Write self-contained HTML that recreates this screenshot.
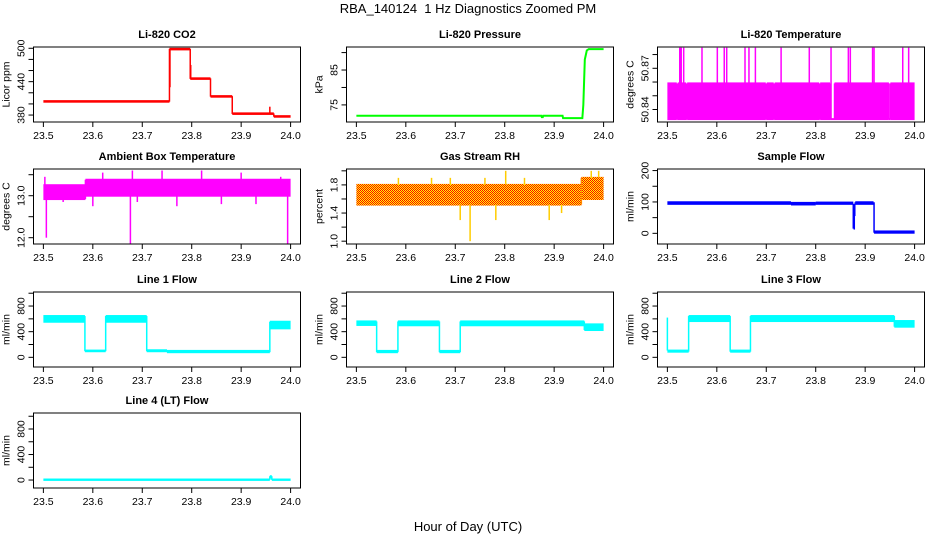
<!DOCTYPE html>
<html><head><meta charset="utf-8">
<style>
html,body{margin:0;padding:0;background:#fff;}
svg{display:block;font-family:"Liberation Sans",sans-serif;}
</style></head>
<body>
<svg id="chart" width="936" height="540" viewBox="0 0 936 540">
<defs>
<pattern id="rhPat" width="2" height="2" patternUnits="userSpaceOnUse">
<rect width="2" height="2" fill="#ffff00"/><rect width="1" height="1" fill="#ff0000"/><rect x="1" y="1" width="1" height="1" fill="#ff0000"/>
</pattern>
</defs>
<text x="468" y="13" text-anchor="middle" font-size="13">RBA_140124 &#160;1 Hz Diagnostics Zoomed PM</text>
<text x="468" y="531" text-anchor="middle" font-size="13">Hour of Day (UTC)</text>
</svg>
<script>
// ---- data (hours UTC; values in panel units) ----
const xTicks = [23.5, 23.6, 23.7, 23.8, 23.9, 24.0];
const xTickLabels = ["23.5","23.6","23.7","23.8","23.9","24.0"];

const co2Start = [23.5, 23.755, 23.797, 23.838, 23.882, 23.966];
const co2End   = [23.755, 23.797, 23.838, 23.882, 23.966, 24.0];
const co2Lo    = [404, 498, 445, 413, 382, 377];
const co2Hi    = [405, 499, 446, 414, 383, 378];
const co2SpikeT = [23.756, 23.798, 23.958];
const co2SpikeV = [430, 470, 395];

const presT = [23.5, 23.874, 23.875, 23.877, 23.878, 23.917, 23.918, 23.957, 23.959, 23.962, 23.966, 23.97, 24.0];
const presV = [71.9, 71.9, 71.5, 71.5, 71.9, 71.9, 71.2, 71.2, 75, 88, 90.6, 91.0, 91.0];

const tempStart = [23.5, 23.519, 23.521, 23.538, 23.540, 23.699, 23.701, 23.715, 23.717, 23.807, 23.809, 23.829, 23.838, 23.948, 23.951];
const tempEnd   = [23.519, 23.521, 23.538, 23.540, 23.699, 23.701, 23.715, 23.717, 23.807, 23.809, 23.829, 23.838, 23.948, 23.951, 24.0];
const tempLo    = [50.833,50.833,50.833,50.833,50.833,50.833,50.833,50.833,50.833,50.833,50.833,50.833,50.833,50.833,50.833];
const tempHi    = [50.859,50.833,50.859,50.833,50.859,50.833,50.859,50.833,50.859,50.833,50.859,50.833,50.859,50.833,50.859];
const tempSpikeT = [23.525,23.528,23.533,23.570,23.601,23.615,23.620,23.657,23.665,23.678,23.730,23.787,23.831,23.866,23.870,23.915,23.918,23.976,23.988];
const tempSpikeV = [50.885,50.885,50.885,50.885,50.885,50.885,50.885,50.885,50.885,50.885,50.885,50.885,50.885,50.885,50.885,50.885,50.885,50.885,50.885];

const ambStart = [23.5, 23.585];
const ambEnd   = [23.585, 24.0];
const ambLo    = [12.92, 13.0];
const ambHi    = [13.25, 13.38];
const ambSpikeT = [23.506, 23.676, 23.994, 23.503, 23.62, 23.68, 23.74, 23.82, 23.9, 23.54, 23.6, 23.69, 23.77, 23.86, 23.93, 23.98];
const ambSpikeV = [12.0, 11.85, 11.85, 13.45, 13.55, 13.6, 13.6, 13.6, 13.55, 12.85, 12.75, 12.85, 12.75, 12.8, 12.8, 13.45];

const rhStart = [23.5, 23.955];
const rhEnd   = [23.955, 24.0];
const rhLo    = [1.52, 1.6];
const rhHi    = [1.8, 1.9];
const rhSpikeT = [23.73, 23.802, 23.71, 23.782, 23.89, 23.585, 23.652, 23.975, 23.99, 23.69, 23.76, 23.84, 23.915];
const rhSpikeV = [1.0, 2.0, 1.3, 1.3, 1.3, 1.9, 1.9, 2.0, 2.0, 1.9, 1.9, 1.9, 1.4];

const sampStart = [23.5, 23.75, 23.8, 23.88, 23.918];
const sampEnd   = [23.75, 23.8, 23.876, 23.917, 24.0];
const sampLo    = [94, 92, 94, 94, 2];
const sampHi    = [99, 97, 98, 99, 6];
const sampSpikeT = [23.876, 23.878, 23.879];
const sampSpikeV = [15, 12, 55];

const l1Start = [23.5, 23.584, 23.626, 23.709, 23.75, 23.958];
const l1End   = [23.584, 23.626, 23.709, 23.75, 23.958, 24.0];
const l1Lo    = [555, 95, 555, 95, 80, 452];
const l1Hi    = [644, 105, 644, 110, 100, 555];

const l2Start = [23.5, 23.541, 23.584, 23.668, 23.710, 23.961];
const l2End   = [23.541, 23.584, 23.668, 23.710, 23.961, 24.0];
const l2Lo    = [505, 80, 500, 80, 500, 426];
const l2Hi    = [560, 100, 560, 100, 560, 514];

const l3Start = [23.5, 23.543, 23.627, 23.668, 23.959];
const l3End   = [23.543, 23.627, 23.668, 23.959, 24.0];
const l3Lo    = [88, 566, 88, 566, 478];
const l3Hi    = [105, 644, 105, 644, 566];
const l3SpikeT = [23.5];
const l3SpikeV = [620];

const l4Start = [23.5, 23.958, 23.962];
const l4End   = [23.958, 23.962, 24.0];
const l4Lo    = [2, 40, 2];
const l4Hi    = [8, 60, 8];

const co2Ticks=[380,400,420,440,460,480,500], co2Labels=["380","","","440","","","500"];
const presTicks=[75,80,85,90], presLabels=["75","","85",""];
const tempTicks=[50.84,50.85,50.86,50.87,50.88], tempLabels=["50.84","","","50.87",""];
const ambTicks=[12.0,12.5,13.0,13.5], ambLabels=["12.0","","13.0",""];
const rhTicks=[1.0,1.2,1.4,1.6,1.8,2.0], rhLabels=["1.0","","1.4","","1.8",""];
const sampTicks=[0,50,100,150,200], sampLabels=["0","","100","","200"];
const flowTicks=[0,200,400,600,800,1000], flowLabels=["0","","400","","800",""];

// ---- layout ----
const NS="http://www.w3.org/2000/svg";
const svg=document.getElementById('chart');
const colLeft=[33.5,346.5,657.5], boxW=267, boxH=75;
const rowTop=[47,169,292,413];
function mk(tag,attrs,parent){const e=document.createElementNS(NS,tag);for(const k in attrs)e.setAttribute(k,attrs[k]);(parent||svg).appendChild(e);return e;}

function panel(cfg){
  const L=colLeft[cfg.col], T=rowTop[cfg.row];
  const g=mk('g',{});
  
  
  const xs=t=>L+boxW*0.037+(t-23.5)*(boxW/1.08/0.5);
  const ys=v=>T+boxH*(cfg.yTop-v)/(cfg.yTop-cfg.yBot);
  const clip='clip-'+cfg.name;
  const cp=mk('clipPath',{id:clip},g);mk('rect',{x:L,y:T,width:boxW,height:boxH},cp);
  const pg=mk('g',{'clip-path':'url(#'+clip+')'},g);
  
  
  const col=cfg.color;
  if(cfg.start){
    for(let i=0;i<cfg.start.length;i++){
      const x0=xs(cfg.start[i]),x1=xs(cfg.end[i]);
      const y0=ys(cfg.hi[i]),y1=ys(cfg.lo[i]);
      const r=mk('rect',{x:x0,y:y0-1,width:Math.max(x1-x0,1),height:Math.max(y1-y0,0)+2,fill:cfg.fill||col},pg);
      
      
      if(i>0){
        const a=Math.min(ys(cfg.hi[i]),ys(cfg.hi[i-1])),b=Math.max(ys(cfg.lo[i]),ys(cfg.lo[i-1]));
        mk('line',{x1:x0,x2:x0,y1:a,y2:b,stroke:col,'stroke-width':1.5},pg);
      }
    }
  }
  if(cfg.spikeT){
    for(let i=0;i<cfg.spikeT.length;i++){
      const t=cfg.spikeT[i],v=cfg.spikeV[i];
      let k=0;for(let j=0;j<cfg.start.length;j++){if(t>=cfg.start[j])k=j;}
      const base=v>cfg.hi[k]?cfg.hi[k]:cfg.lo[k];
      const s=mk('line',{x1:xs(t),x2:xs(t),y1:ys(base),y2:ys(v),stroke:cfg.spikeColor||col,'stroke-width':1.5},pg);
      
      
    }
  }
  if(cfg.lineT){
    const pts=cfg.lineT.map((t,i)=>xs(t)+','+ys(cfg.lineV[i])).join(' ');
    const pl=mk('polyline',{points:pts,fill:'none',stroke:col,'stroke-width':2},pg);
    
    
  }
  mk('rect',{x:L,y:T,width:boxW,height:boxH,fill:'none',stroke:'#000','stroke-width':1},g);
  const B=T+boxH;
  mk('line',{x1:xs(xTicks[0]),x2:xs(xTicks[xTicks.length-1]),y1:B,y2:B,stroke:'#000'},g);
  xTicks.forEach((t,i)=>{
    mk('line',{x1:xs(t),x2:xs(t),y1:B,y2:B+5,stroke:'#000'},g);
    const tx=mk('text',{x:xs(t),y:B+17,'text-anchor':'middle','font-size':10.5},g);tx.textContent=xTickLabels[i];
    
    
  });
  mk('line',{x1:L,x2:L,y1:ys(cfg.ticks[0]),y2:ys(cfg.ticks[cfg.ticks.length-1]),stroke:'#000'},g);
  cfg.ticks.forEach((v,i)=>{
    const y=ys(v);
    mk('line',{x1:L-5,x2:L,y1:y,y2:y,stroke:'#000'},g);
    if(cfg.labels[i]){const tx=mk('text',{x:L-9,y:y,'text-anchor':'middle','font-size':10.5,transform:'rotate(-90 '+(L-9)+' '+y+')'},g);tx.textContent=cfg.labels[i];
    
    }
  });
  const yt=T+boxH/2;
  const ytl=mk('text',{x:L-24,y:yt,'text-anchor':'middle','font-size':10.5,transform:'rotate(-90 '+(L-24)+' '+yt+')'},g);
  ytl.textContent=cfg.ylab;
  
  
  const tt=mk('text',{x:L+boxW/2,y:T-9,'text-anchor':'middle','font-size':11,'font-weight':'bold'},g);
  tt.textContent=cfg.title;
  
  
}

panel({name:'co2',row:0,col:0,title:'Li-820 CO2',ylab:'Licor ppm',yTop:502.3,yBot:367.5,ticks:co2Ticks,labels:co2Labels,color:'#ff0000',start:co2Start,end:co2End,lo:co2Lo,hi:co2Hi,spikeT:co2SpikeT,spikeV:co2SpikeV});
panel({name:'pressure',row:0,col:1,title:'Li-820 Pressure',ylab:'kPa',yTop:91.6,yBot:70.1,ticks:presTicks,labels:presLabels,color:'#00ff00',lineT:presT,lineV:presV});
panel({name:'li820-temp',row:0,col:2,title:'Li-820 Temperature',ylab:'degrees C',yTop:50.8855,yBot:50.8309,ticks:tempTicks,labels:tempLabels,color:'#ff00ff',start:tempStart,end:tempEnd,lo:tempLo,hi:tempHi,spikeT:tempSpikeT,spikeV:tempSpikeV});
panel({name:'ambient-temp',row:1,col:0,title:'Ambient Box Temperature',ylab:'degrees C',yTop:13.636,yBot:11.85,ticks:ambTicks,labels:ambLabels,color:'#ff00ff',start:ambStart,end:ambEnd,lo:ambLo,hi:ambHi,spikeT:ambSpikeT,spikeV:ambSpikeV});
panel({name:'gas-rh',row:1,col:1,title:'Gas Stream RH',ylab:'percent',yTop:2.026,yBot:0.96,ticks:rhTicks,labels:rhLabels,color:'#ff8800',fill:'url(#rhPat)',spikeColor:'#ffcc00',start:rhStart,end:rhEnd,lo:rhLo,hi:rhHi,spikeT:rhSpikeT,spikeV:rhSpikeV});
panel({name:'sample-flow',row:1,col:2,title:'Sample Flow',ylab:'ml/min',yTop:205,yBot:-34,ticks:sampTicks,labels:sampLabels,color:'#0000ff',start:sampStart,end:sampEnd,lo:sampLo,hi:sampHi,spikeT:sampSpikeT,spikeV:sampSpikeV});
panel({name:'line1-flow',row:2,col:0,title:'Line 1 Flow',ylab:'ml/min',yTop:1019,yBot:-151,ticks:flowTicks,labels:flowLabels,color:'#00ffff',start:l1Start,end:l1End,lo:l1Lo,hi:l1Hi});
panel({name:'line2-flow',row:2,col:1,title:'Line 2 Flow',ylab:'ml/min',yTop:1019,yBot:-151,ticks:flowTicks,labels:flowLabels,color:'#00ffff',start:l2Start,end:l2End,lo:l2Lo,hi:l2Hi});
panel({name:'line3-flow',row:2,col:2,title:'Line 3 Flow',ylab:'ml/min',yTop:1019,yBot:-151,ticks:flowTicks,labels:flowLabels,color:'#00ffff',start:l3Start,end:l3End,lo:l3Lo,hi:l3Hi,spikeT:l3SpikeT,spikeV:l3SpikeV});
panel({name:'line4-flow',row:3,col:0,title:'Line 4 (LT) Flow',ylab:'ml/min',yTop:1051,yBot:-125,ticks:flowTicks,labels:flowLabels,color:'#00ffff',start:l4Start,end:l4End,lo:l4Lo,hi:l4Hi});
</script>
</body></html>
